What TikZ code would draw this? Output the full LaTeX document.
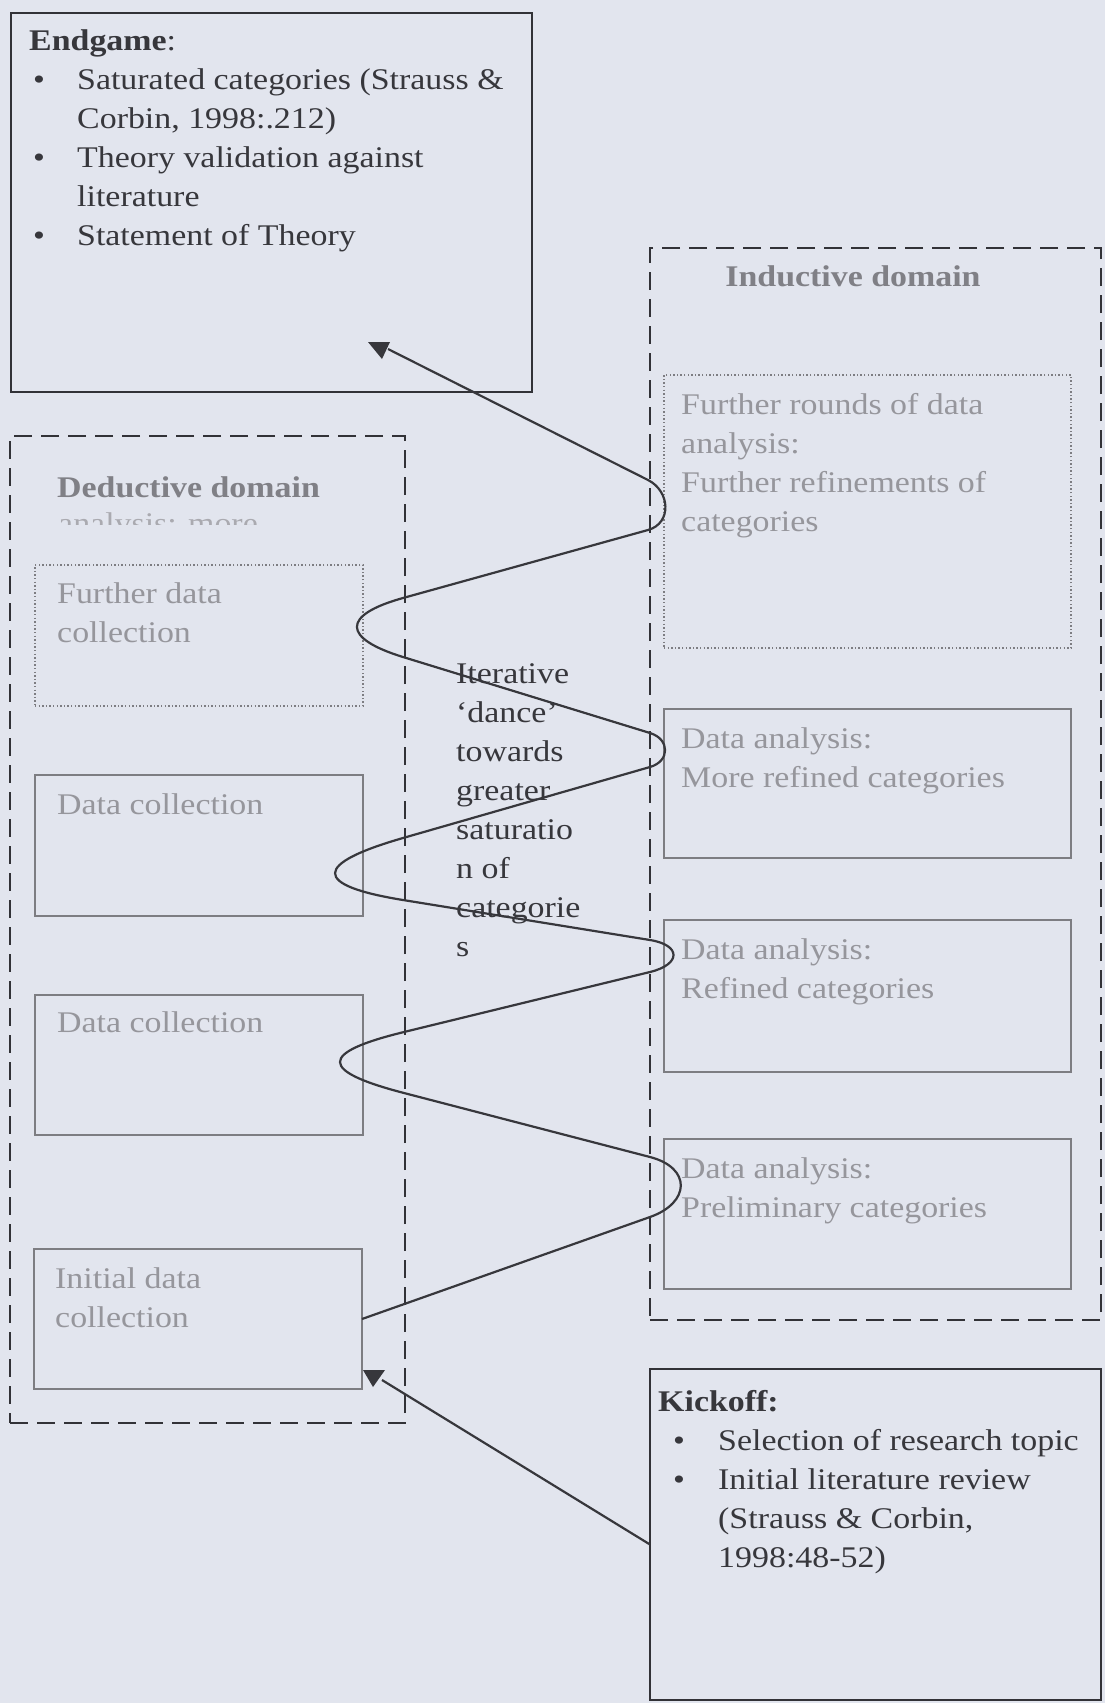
\documentclass[tikz,border=0pt]{standalone}
\usepackage{fontspec}
\setmainfont{Liberation Serif}[FakeStretch=1.13]
\usetikzlibrary{calc}
\definecolor{bg}{RGB}{226,229,238}
\definecolor{ink}{RGB}{55,55,60}
\definecolor{boxline}{RGB}{50,50,55}
\definecolor{soft}{RGB}{150,150,156}
\definecolor{ghost}{RGB}{170,170,176}
\definecolor{softline}{RGB}{125,125,130}
\definecolor{titlegray}{RGB}{128,128,134}
\definecolor{curve}{RGB}{55,55,60}
\newcommand{\bodyfont}{\fontsize{30}{39}\selectfont}
\newcommand{\bulA}{\hspace*{4pt}\makebox[44pt][l]{\textbullet}}
\newcommand{\bulB}{\hspace*{15pt}\makebox[45pt][l]{\textbullet}}
\begin{document}
\begin{tikzpicture}[x=1pt,y=-1pt,
  boxbase/.style={rectangle,inner sep=0pt,outer sep=0pt,anchor=north west},
  darkbox/.style={boxbase,draw=boxline,line width=2.4pt},
  domainbox/.style={boxbase,draw=boxline,line width=2pt,dash pattern=on 18pt off 9pt},
  softbox/.style={boxbase,draw=softline,line width=1.6pt},
  dotbox/.style={boxbase,draw=softline,line width=1.4pt,dash pattern=on 1.4pt off 2.2pt},
  txt/.style={anchor=north west,inner sep=0pt,align=left,font=\bodyfont},
  dance/.style={draw=curve,line width=2.2pt},
]
\useasboundingbox (0,0) rectangle (1105,1703);
\fill[bg] (0,0) rectangle (1105,1703);

% Endgame
\node[darkbox,minimum width=521pt,minimum height=379pt] (endgame) at (11,13) {};
\node[txt,text=ink] (endgametext) at (29,23) {\strut\textbf{Endgame}:\\
\bulA Saturated categories (Strauss \&\\
\hspace*{48pt}Corbin, 1998:.212)\\
\bulA Theory validation against\\
\hspace*{48pt}literature\\
\bulA Statement of Theory};

% Inductive domain
\node[domainbox,minimum width=451pt,minimum height=1072pt] (inductive) at (650,248) {};
\node[anchor=base,inner sep=0pt,font=\bodyfont\bfseries,text=titlegray] (indtitle) at (853,286) {Inductive domain};
\node[dotbox,minimum width=407pt,minimum height=273pt] (frbox) at (664,375) {};
\node[txt,text=soft] (frtext) at (681,386.5) {\strut Further rounds of data\\analysis:\\Further refinements of\\categories};
\node[softbox,minimum width=407pt,minimum height=149pt] (mrbox) at (664,709) {};
\node[txt,text=soft] (mrtext) at (681,720.5) {\strut Data analysis:\\More refined categories};
\node[softbox,minimum width=407pt,minimum height=152pt] (rbox) at (664,920) {};
\node[txt,text=soft] (rtext) at (681,931.5) {\strut Data analysis:\\Refined categories};
\node[softbox,minimum width=407pt,minimum height=150pt] (pbox) at (664,1139) {};
\node[txt,text=soft] (ptext) at (681,1150.5) {\strut Data analysis:\\Preliminary categories};

% Deductive domain
\node[domainbox,minimum width=395pt,minimum height=987pt] (deductive) at (10,436) {};
\node[anchor=base west,inner sep=0pt,font=\bodyfont\bfseries,text=titlegray] (dedtitle) at (57,497) {Deductive domain};
\begin{scope}
\clip (40,500) rectangle (300,524);
\node[anchor=base west,inner sep=0pt,font=\bodyfont,text=ghost] (ghosttext) at (58,533) {analysis: more};
\end{scope}
\node[dotbox,minimum width=328pt,minimum height=141pt] (fdbox) at (35,565) {};
\node[txt,text=soft] (fdtext) at (57,575.5) {\strut Further data\\collection};
\node[softbox,minimum width=328pt,minimum height=141pt] (dcA) at (35,775) {};
\node[txt,text=soft] (dcAtext) at (57,786.5) {\strut Data collection};
\node[softbox,minimum width=328pt,minimum height=140pt] (dcB) at (35,995) {};
\node[txt,text=soft] (dcBtext) at (57,1004.5) {\strut Data collection};
\node[softbox,minimum width=328pt,minimum height=140pt] (initdc) at (34,1249) {};
\node[txt,text=soft] (initdctext) at (55,1260.5) {\strut Initial data\\collection};

% Kickoff
\node[darkbox,minimum width=451pt,minimum height=331pt] (kick) at (650,1369) {};
\node[txt,text=ink] (kicktext) at (658,1384) {\strut\textbf{Kickoff:}\\
\bulB Selection of research topic\\
\bulB Initial literature review\\
\hspace*{60pt}(Strauss \& Corbin,\\
\hspace*{60pt}1998:48-52)};

% Iterative label
\node[txt,text=ink] (iter) at (456,655.5) {\strut Iterative\\‘dance’\\towards\\greater\\saturatio\\n of\\categorie\\s};

% Dance curve
\coordinate (S) at (initdc.east);
\coordinate (R1l) at (650,1217); \coordinate (R1u) at (650,1157);
\coordinate (L2l) at (404,1093); \coordinate (L2u) at (404,1032);
\coordinate (R3l) at (650,972);  \coordinate (R3u) at (650,940);
\coordinate (L4l) at (403,900);  \coordinate (L4u) at (403,838);
\coordinate (R5l) at (650,767);  \coordinate (R5u) at (650,733);
\coordinate (L6l) at (403,657);  \coordinate (L6u) at (403,598);
\coordinate (R7l) at (648,530);  \coordinate (R7u) at (648,480);
\coordinate (egtip) at (388,349);
\draw[dance] (S) -- (R1l)
  .. controls ($(R1l)!-43pt!(S)$) and ($(R1u)!-43pt!(L2l)$) .. (R1u)
  -- (L2l)
  .. controls ($(L2l)!-88pt!(R1u)$) and ($(L2u)!-88pt!(R3l)$) .. (L2u)
  -- (R3l)
  .. controls ($(R3l)!-32pt!(L2u)$) and ($(R3u)!-32pt!(L4l)$) .. (R3u)
  -- (L4l)
  .. controls ($(L4l)!-93pt!(R3u)$) and ($(L4u)!-93pt!(R5l)$) .. (L4u)
  -- (R5l)
  .. controls ($(R5l)!-21pt!(L4u)$) and ($(R5u)!-21pt!(L6l)$) .. (R5u)
  -- (L6l)
  .. controls ($(L6l)!-64pt!(R5u)$) and ($(L6u)!-64pt!(R7l)$) .. (L6u)
  -- (R7l)
  .. controls ($(R7l)!-25pt!(L6u)$) and ($(R7u)!-25pt!(egtip)$) .. (R7u)
  -- (egtip);
\fill[curve] ($(egtip)+(-20,-7)$) -- ($(egtip)+(2,-7)$) -- ($(egtip)+(-6,10)$) -- cycle;

% Kickoff arrow
\coordinate (kotip) at (382,1380);
\draw[dance] ($(kick.west)+(0,10)$) -- (kotip);
\fill[curve] ($(kotip)+(-19,-10)$) -- ($(kotip)+(3,-10)$) -- ($(kotip)+(-9,7)$) -- cycle;
\end{tikzpicture}
\end{document}
